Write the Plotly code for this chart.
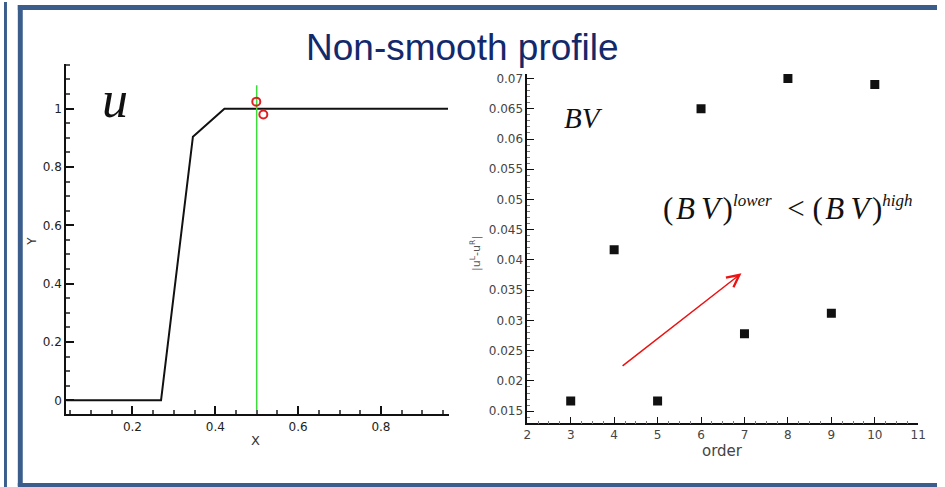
import plotly.graph_objects as go

# ---- data -------------------------------------------------------------
# left panel: piecewise-linear profile u(x)
profile_x = [0.04, 0.269, 0.346, 0.422, 0.962]
profile_y = [0.0, 0.0, 0.904, 1.0, 1.0]

# interface location and the two reconstructed values next to it
interface_x = [0.5, 0.5]
interface_y = [-0.048, 1.08]
recon_x = [0.499, 0.516]
recon_y = [1.024, 0.98]

# right panel: jump |u^L - u^R| against scheme order
orders = [3, 4, 5, 6, 7, 8, 9, 10]
jump = [0.0167, 0.0417, 0.0167, 0.0650, 0.0278, 0.0700, 0.0312, 0.0690]

left_xticks = [0.2, 0.4, 0.6, 0.8]
left_yticks = [0, 0.2, 0.4, 0.6, 0.8, 1.0]
right_xticks = list(range(2, 12))
right_yticks = [0.015, 0.02, 0.025, 0.03, 0.035, 0.04, 0.045,
                0.05, 0.055, 0.06, 0.065, 0.07]

W, H = 945, 487


def px(x):
    return x / W


def py(y):
    return 1 - y / H


fig = go.Figure()

fig.add_trace(go.Scatter(x=profile_x, y=profile_y, mode="lines",
                         line=dict(color="#111111", width=2),
                         xaxis="x", yaxis="y", showlegend=False))
fig.add_trace(go.Scatter(x=interface_x, y=interface_y, mode="lines",
                         line=dict(color="#3ddc3d", width=1.5),
                         xaxis="x", yaxis="y", showlegend=False))
fig.add_trace(go.Scatter(x=recon_x, y=recon_y, mode="markers",
                         marker=dict(symbol="circle-open", size=8,
                                     color="#e02020", line=dict(width=2)),
                         xaxis="x", yaxis="y", showlegend=False))
fig.add_trace(go.Scatter(x=orders, y=jump, mode="markers",
                         marker=dict(symbol="square", size=9, color="#111111"),
                         xaxis="x2", yaxis="y2", showlegend=False))

axis_common = dict(showline=True, linecolor="#111111", mirror=False,
                   showgrid=False, zeroline=False, ticks="inside",
                   tickcolor="#111111")

fig.update_layout(
    width=W, height=H,
    margin=dict(l=0, r=0, t=0, b=0),
    paper_bgcolor="white", plot_bgcolor="white",
    xaxis=dict(**axis_common, domain=[px(63), px(451)], anchor="y",
               range=[0.04, 0.965], tickvals=left_xticks,
               linewidth=2, ticklen=8, tickwidth=1.5,
               tickfont=dict(family="DejaVu Sans", size=12, color="#222222"),
               minor=dict(ticks="inside", ticklen=4, tickcolor="#555555",
                          tickmode="linear", tick0=0, dtick=0.05, showgrid=False)),
    yaxis=dict(**axis_common, domain=[py(414), py(62)], anchor="x",
               range=[-0.048, 1.154], tickvals=left_yticks,
               linewidth=2, ticklen=8, tickwidth=1.5,
               tickfont=dict(family="DejaVu Sans", size=12, color="#222222"),
               minor=dict(ticks="inside", ticklen=4, tickcolor="#555555",
                          tickmode="linear", tick0=0, dtick=0.05, showgrid=False)),
    xaxis2=dict(**axis_common, domain=[px(530), px(926)], anchor="y2",
                range=[2, 11], tickvals=right_xticks,
                linewidth=1.5, ticklen=7, tickwidth=1.2,
                tickfont=dict(family="DejaVu Sans", size=12, color="#444444"),
                minor=dict(ticks="inside", ticklen=3, tickcolor="#777777",
                           tickmode="linear", tick0=2, dtick=0.25, showgrid=False)),
    yaxis2=dict(**axis_common, domain=[py(423), py(72)], anchor="x2",
                range=[0.013, 0.0708], tickvals=right_yticks,
                linewidth=1.5, ticklen=7, tickwidth=1.2,
                tickfont=dict(family="DejaVu Sans", size=12, color="#444444"),
                minor=dict(ticks="inside", ticklen=3, tickcolor="#777777",
                           tickmode="linear", tick0=0.015, dtick=0.001, showgrid=False)),
)

# slide frame
frame = "#3a5d8c"
shapes = [
    dict(x0=px(0), x1=px(3), y0=py(487), y1=py(0)),
    dict(x0=px(14), x1=px(19), y0=py(486), y1=py(3)),
    dict(x0=px(14), x1=px(945), y0=py(8), y1=py(3)),
    dict(x0=px(14), x1=px(945), y0=py(487), y1=py(483)),
]
for s in shapes:
    fig.add_shape(type="rect", xref="paper", yref="paper",
                  fillcolor=frame, line=dict(width=0), layer="above", **s)

# math-style spacing between the italic letters
thin = "\u2009"
hair = "\u200a"
sup = "<sup><span style='font-size:17px'><i>{}</i></span></sup>"
bv = "(" + hair + "<i>B" + thin + "V</i>" + hair + ")"
formula = bv + sup.format("lower") + "\u2002" + "&lt; " + bv + sup.format("high")

annotations = [
    dict(x=px(464), y=py(46), text="Non-smooth profile",
         font=dict(family="Liberation Sans", size=37, color="#12296b")),
    dict(x=px(112), y=py(98), text="<i>u</i>",
         font=dict(family="Liberation Serif", size=52, color="#111111")),
    dict(x=px(587), y=py(116), text="<i>BV</i>",
         font=dict(family="Liberation Serif", size=29, color="#111111")),
    dict(x=px(794), y=py(207), text=formula,
         font=dict(family="Liberation Serif", size=31, color="#111111")),
    dict(x=px(255), y=py(440), text="X",
         font=dict(family="DejaVu Sans", size=13, color="#333333")),
    dict(x=px(28), y=py(240), text="Y", textangle=-90,
         font=dict(family="DejaVu Sans", size=12, color="#333333")),
    dict(x=px(728), y=py(451), text="order",
         font=dict(family="DejaVu Sans", size=15, color="#444444")),
    dict(x=px(478), y=py(252), text="|u<sup>L</sup>-u<sup>R</sup>|", textangle=-90,
         font=dict(family="DejaVu Sans", size=11, color="#555555")),
]
for a in annotations:
    fig.add_annotation(xref="paper", yref="paper", showarrow=False,
                       xanchor="center", yanchor="middle", **a)

# trend arrow in the right panel
fig.add_annotation(x=6.93, y=0.0378, ax=4.16, ay=0.0223,
                   xref="x2", yref="y2", axref="x2", ayref="y2",
                   text="", showarrow=True, arrowhead=5, arrowsize=1.6,
                   arrowwidth=1.5, arrowcolor="#ee1111")

fig.write_html("out.html")
